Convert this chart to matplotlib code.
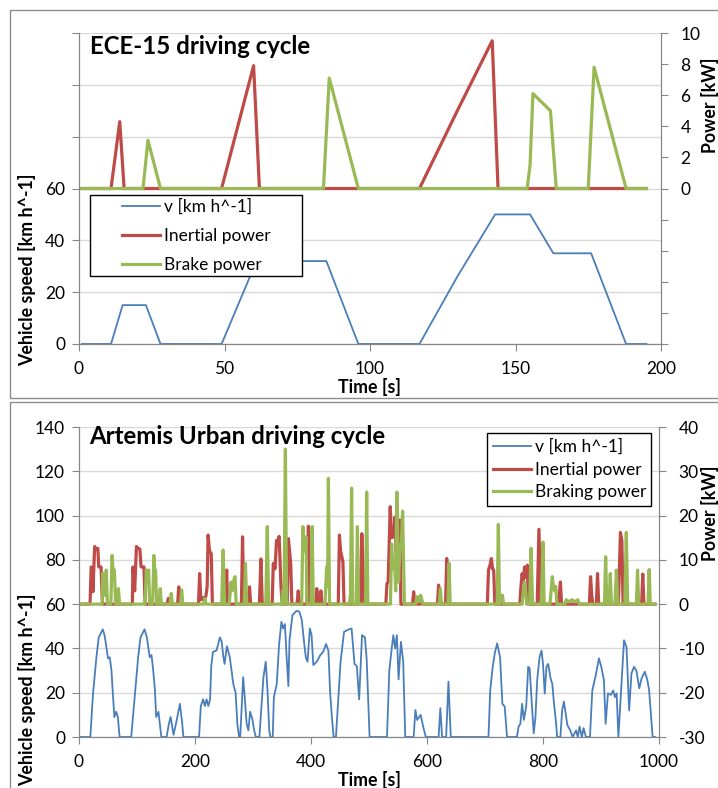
import matplotlib.pyplot as plt
from matplotlib.patches import Rectangle
from matplotlib.lines import Line2D
from matplotlib.ticker import FuncFormatter, MultipleLocator

plt.rcParams["font.family"] = ["Lato", "DejaVu Sans"]
plt.rcParams["axes.unicode_minus"] = False

# ---- ECE-15 cycle ----
ece_t = [1, 11, 15, 23, 28, 49, 61, 85, 96, 117, 130, 143, 155, 163, 176, 188, 195]
ece_v = [0, 0, 15, 15, 0, 0, 32, 32, 0, 0, 26, 50, 50, 35, 35, 0, 0]

ece_inertial_t = [1, 11, 14, 15.5, 49, 60, 62, 117, 130, 142, 144, 195]
ece_inertial_p = [0, 0, 4.3, 0, 0, 7.9, 0, 0, 5.0, 9.5, 0, 0]

ece_brake_t = [1, 22, 23.7, 28, 84, 86, 96, 154, 155, 156, 162, 164, 175, 177, 188, 195]
ece_brake_p = [0, 0, 3.1, 0, 0, 7.1, 0, 0, 1.5, 6.1, 5.0, 0, 0, 7.8, 0, 0]

# ---- Artemis Urban cycle ----
urban_t = [0, 19.5, 24, 30, 34, 38, 41, 44, 47, 50, 53, 56, 58, 61, 64, 67, 70,
           90, 96, 102, 106, 110, 113, 117, 122, 125, 128, 131, 133, 137, 142,
           151, 155, 158, 163, 168, 174, 178, 180,
           207, 210, 214, 217, 220, 223, 226, 228, 231, 237, 240, 243, 246, 249,
           251, 255, 260, 266, 270, 273, 276, 278, 283, 286, 289, 292, 295, 299,
           302, 305, 311, 318, 322, 325, 328, 330, 334, 336, 341, 345, 349, 352,
           355, 358, 361, 363, 368, 375, 380, 384, 388, 391, 394, 398, 401, 404,
           410, 416, 421, 426, 430, 433, 436, 439, 443, 447, 451, 457, 465, 470,
           475, 479, 483, 488, 493, 496, 501,
           531, 535, 539.5, 542, 545, 548, 551, 555, 559, 562.5,
           577, 580, 583, 589, 594, 598, 620, 623, 626, 633, 637, 641,
           706, 709, 713, 717, 721, 726, 730, 734, 738,
           755, 758, 761, 764, 767, 771, 774.5, 777, 781, 784, 787, 790, 794,
           797.5, 800, 803, 806, 809, 813, 816, 819, 822, 824.5, 830, 833, 836,
           839, 842, 847, 851, 857, 860, 863, 867, 870, 874, 881,
           885, 891, 896.5, 900.5, 905, 908, 912, 917, 921, 924, 927, 930, 934,
           939.7, 944, 948.5, 952.5, 957, 961, 966, 970, 975.5, 980, 983, 989, 993]
urban_v = [0, 0, 19, 36, 45, 47, 48.6, 46, 41, 35.5, 36, 30, 21, 9, 11.4, 9, 0,
           0, 18, 36, 45, 47, 48.6, 45, 36, 37, 30, 21, 9, 11.4, 0,
           0, 6, 9, 1, 7, 15, 6, 0,
           0, 14, 17, 14, 17, 14, 17, 32, 38.5, 39, 42, 45, 43, 36,
           33, 41, 36, 24, 20, 6, 0, 0, 27, 17, 6, 3, 11.4, 8,
           3, 0, 0, 27, 34, 21, 3, 0, 0, 18, 24, 42, 52, 49,
           51, 36, 23, 44, 55, 57, 56.6, 53, 43, 36, 34, 49, 46, 32.5,
           34, 37, 38.5, 42, 39, 20, 9, 0, 0, 17, 34, 47.5, 48.6, 49,
           33, 32, 17, 46, 45, 35, 0,
           0, 30, 40.8, 46, 40, 46, 26, 43, 34, 0,
           0, 12.2, 7.7, 10, 4, 0, 0, 13, 0, 0, 25, 0,
           0, 21, 31, 38, 42.3, 36, 15, 13.7, 0,
           0, 4.7, 6, 15, 7.7, 13.7, 31.7, 31, 13.7, 1.7, 9, 25.7, 36,
           39, 33, 19.6, 31.7, 33, 26.5, 24, 15, 7.7, 0, 0, 12, 16,
           10.7, 5.4, 3, 0, 3, 0, 4.7, 0, 4, 0, 0,
           21, 28, 35.5, 31.7, 25.7, 6, 19.7, 19, 21, 18, 19.7, 0, 18,
           43.7, 40.6, 12, 28.7, 31.7, 30, 22, 26.5, 29.5, 25.7, 21, 0, 0]

urban_inertial_t = [1, 19, 21, 23, 24, 27, 30, 32.5, 34, 38, 40, 41,
                    92, 93, 96, 99, 102, 105, 107, 112, 114,
                    152, 154, 156, 170, 172, 174,
                    206, 208, 210, 213, 216, 219, 221, 222.6, 225, 228, 230,
                    253, 254.6, 256, 280, 282, 284, 292, 294, 296, 311, 313.6, 316,
                    333, 335, 338, 340.6, 343, 345, 348, 350,
                    359, 361, 363, 365, 367, 376, 378, 380, 393, 395.5, 398,
                    408, 410, 412, 415, 417, 419,
                    447, 449, 451, 455, 457, 485, 487.6, 490, 491,
                    529, 531, 533, 536.6, 539, 542, 545, 548, 551, 553, 555,
                    575, 577, 579, 588, 590, 592, 618, 620, 622, 632, 634, 636,
                    704, 706, 709, 711, 713, 715, 717,
                    760, 762, 764, 766, 768, 771, 773, 775, 790, 793, 796,
                    827, 830, 832, 880, 882, 884, 886, 892, 894, 896,
                    930, 933.5, 936, 938, 970, 972, 974, 993]
urban_inertial_p = [0, 0, 8.4, 8.0, 2.8, 13, 12.4, 12.6, 8.4, 8.4, 1.5, 0,
                    0, 8.4, 3, 13, 12.6, 12.4, 8.4, 8.4, 0,
                    0, 1.3, 0, 0, 3.9, 0,
                    0, 6.9, 1, 1.5, 0.8, 2, 4, 15.6, 12, 11.4, 0,
                    0, 7.7, 0, 0, 15.2, 0, 0, 3.9, 0, 0, 10.2, 0,
                    0, 9.2, 8, 14.4, 14, 15.3, 5, 0,
                    0, 14.8, 12, 9.2, 0, 0, 3, 0, 0, 17.6, 0,
                    0, 3.5, 0, 0, 3, 0,
                    0, 15.6, 12, 9.6, 0, 0, 15.9, 6, 0,
                    0, 4.7, 5, 22, 15, 15.2, 19.7, 5, 10, 19, 0,
                    0, 2.8, 0, 0, 1.2, 0, 0, 4.3, 0, 0, 10.3, 0,
                    0, 7.7, 9, 10.3, 8, 7.7, 0,
                    0, 4, 6.9, 5, 8.4, 6, 8.8, 0, 0, 16.9, 0,
                    0, 5, 0, 0, 6.2, 2, 0, 0, 6.9, 0,
                    0, 16.2, 14.4, 0, 0, 6.8, 0, 0]

urban_brake_t = [1, 40, 41, 43, 45, 47, 49, 55, 57, 59, 61, 63, 66, 68, 70,
                 114, 116, 118, 120, 122, 127, 129, 131, 132, 134, 138, 140, 142,
                 157, 159, 161, 175, 177, 179, 215, 217, 219, 246, 248.5, 251,
                 259, 262, 264, 266, 269, 271, 285, 287, 289, 322, 324.6, 327,
                 349, 351, 353, 353.5, 355.8, 358, 384, 386, 389, 391.5, 393,
                 400, 402, 404, 424, 427, 428.5, 430, 432, 466, 468, 470, 472,
                 478, 480, 482, 494, 496, 498,
                 537, 539, 541, 544, 546, 548, 551, 553, 556, 558, 561,
                 580, 583, 586, 589, 591, 593, 621, 623, 625, 636, 638, 640,
                 721, 723, 725, 727, 730, 732, 764, 766, 768, 770, 772,
                 777, 779.5, 782, 797, 800, 802,
                 812, 814, 816, 818, 820, 822, 824,
                 838, 840, 845, 850, 855, 860, 862,
                 906, 908, 910, 914, 916, 918, 924, 926.5, 929,
                 941, 943.6, 946, 961, 963, 965, 981, 983, 985, 993]
urban_brake_p = [0, 0, 7, 5, 2, 7.7, 0, 0, 11, 7, 7.7, 0, 0, 3.5, 0,
                 0, 7.7, 5, 7.7, 0, 0, 11, 7, 7.7, 0, 0, 3.5, 0,
                 0, 2.4, 0, 0, 3.2, 0, 0, 1.3, 0, 0, 12.2, 0,
                 0, 5, 3, 5, 6.2, 0, 0, 9.2, 0, 0, 17.5, 0,
                 0, 3, 0, 0, 35, 0, 0, 17.5, 12, 15.2, 0,
                 0, 17.5, 0, 0, 8.4, 4, 28.4, 0, 0, 2, 26.2, 0,
                 0, 17.5, 0, 0, 25.3, 0,
                 0, 13.6, 8, 10, 3, 25.3, 5, 12, 14, 21, 0,
                 0, 1.7, 0.5, 2, 1, 0, 0, 3.5, 0, 0, 9.2, 0,
                 0, 18, 0, 2, 2, 0, 0, 3, 5, 3, 0,
                 0, 12.6, 0, 0, 14, 0,
                 0, 3, 6.2, 4, 3, 4, 0,
                 0, 1, 0.5, 1, 0.5, 1, 0,
                 0, 10.7, 0, 0, 6.9, 0, 0, 7.7, 0,
                 0, 16.2, 0, 0, 7.7, 0, 0, 7.8, 0, 0]

BLUE = "#4A7EBB"
RED = "#BE4B48"
GREEN = "#98B954"
AXIS_GREY = "#868686"
GRID_GREY = "#D9D9D9"
FS = 12.5      # tick labels / legend
LFS = 12.8     # axis titles
TFS = 17.3     # chart titles

W, H = 718, 788


def fx(px):
    return px / W


def fy(py):
    return 1 - py / H


fig = plt.figure(figsize=(W / 100, H / 100), dpi=100)

# chart area borders (Excel style)
for y0, y1 in [(10, 398), (402, 800)]:
    fig.patches.append(Rectangle((fx(10), fy(y1)), fx(730) - fx(10), fy(y0) - fy(y1),
                                 transform=fig.transFigure, fill=False,
                                 edgecolor="#8C8C8C", linewidth=1, zorder=0))


def style_panel(ax, ax2):
    for a in (ax, ax2):
        a.spines["top"].set_visible(False)
        for s in ("left", "right", "bottom"):
            a.spines[s].set_color(AXIS_GREY)
        a.tick_params(direction="out", length=5, color=AXIS_GREY, labelsize=FS)
    ax.tick_params(axis="x", pad=7)
    ax.tick_params(axis="y", pad=5)
    ax2.tick_params(axis="y", pad=9)
    ax.grid(axis="y", color=GRID_GREY, linewidth=1)
    ax.set_axisbelow(True)


def add_legend_box(x0, y0, x1, y1):
    fig.patches.append(Rectangle((fx(x0), fy(y1)), fx(x1) - fx(x0), fy(y0) - fy(y1),
                                 transform=fig.transFigure, facecolor="white",
                                 edgecolor="black", linewidth=1, zorder=3))


# ================= top panel: ECE-15 =================
ax = fig.add_axes([fx(79), fy(344), fx(661) - fx(79), fy(33) - fy(344)])
ax2 = ax.twinx()
ax.plot(ece_t, ece_v, color=BLUE, linewidth=1.3)
ax2.plot(ece_inertial_t, ece_inertial_p, color=RED, linewidth=2.3)
ax2.plot(ece_brake_t, ece_brake_p, color=GREEN, linewidth=2.3)
ax.set_xlim(0, 200)
ax.set_ylim(0, 120)
ax2.set_ylim(-10, 10)
ax.xaxis.set_major_locator(MultipleLocator(50))
ax.yaxis.set_major_locator(MultipleLocator(20))
ax2.yaxis.set_major_locator(MultipleLocator(2))
ax.yaxis.set_major_formatter(FuncFormatter(lambda v, p: f"{v:.0f}" if v <= 60 else ""))
ax2.yaxis.set_major_formatter(FuncFormatter(lambda v, p: f"{v:.0f}" if v >= 0 else ""))
style_panel(ax, ax2)

fig.text(fx(90), fy(46), "ECE-15 driving cycle", fontsize=TFS, fontweight="bold",
         ha="left", va="center")
fig.text(fx(27), fy(270), "Vehicle speed [km h^-1]", rotation=90, fontsize=LFS,
         fontweight="bold", ha="center", va="center")
fig.text(fx(369), fy(387), "Time [s]", fontsize=LFS, fontweight="bold",
         ha="center", va="center")
fig.text(fx(710), fy(105), "Power [kW]", rotation=90, fontsize=LFS,
         fontweight="bold", ha="center", va="center")

add_legend_box(90, 195, 302, 276)
handles = [Line2D([], [], color=BLUE, linewidth=1.3),
           Line2D([], [], color=RED, linewidth=2.3),
           Line2D([], [], color=GREEN, linewidth=2.3)]
fig.legend(handles, ["v [km h^-1]", "Inertial power", "Brake power"],
           loc="upper left", bbox_to_anchor=(fx(122), fy(199)),
           bbox_transform=fig.transFigure, frameon=False, fontsize=FS,
           borderpad=0, borderaxespad=0, handlelength=2.2, handletextpad=0.2,
           labelspacing=0.75)

# ================= bottom panel: Artemis Urban =================
bx = fig.add_axes([fx(79), fy(737), fx(659) - fx(79), fy(427) - fy(737)])
bx2 = bx.twinx()
bx.plot(urban_t, urban_v, color=BLUE, linewidth=1.3)
bx2.plot(urban_inertial_t, urban_inertial_p, color=RED, linewidth=2.3)
bx2.plot(urban_brake_t, urban_brake_p, color=GREEN, linewidth=2.3)
bx.set_xlim(0, 1000)
bx.set_ylim(0, 140)
bx2.set_ylim(-30, 40)
bx.xaxis.set_major_locator(MultipleLocator(200))
bx.yaxis.set_major_locator(MultipleLocator(20))
bx2.yaxis.set_major_locator(MultipleLocator(10))
style_panel(bx, bx2)

fig.text(fx(89), fy(437), "Artemis Urban driving cycle", fontsize=TFS,
         fontweight="bold", ha="left", va="center")
fig.text(fx(27), fy(690), "Vehicle speed [km h^-1]", rotation=90, fontsize=LFS,
         fontweight="bold", ha="center", va="center")
fig.text(fx(369), fy(780), "Time [s]", fontsize=LFS, fontweight="bold",
         ha="center", va="center")
fig.text(fx(710), fy(513), "Power [kW]", rotation=90, fontsize=LFS,
         fontweight="bold", ha="center", va="center")

add_legend_box(487, 433, 651, 506)
fig.legend(handles, ["v [km h^-1]", "Inertial power", "Braking power"],
           loc="upper left", bbox_to_anchor=(fx(493), fy(439)),
           bbox_transform=fig.transFigure, frameon=False, fontsize=FS,
           borderpad=0, borderaxespad=0, handlelength=2.2, handletextpad=0.2,
           labelspacing=0.38)

fig.savefig("out.png", dpi=100)
